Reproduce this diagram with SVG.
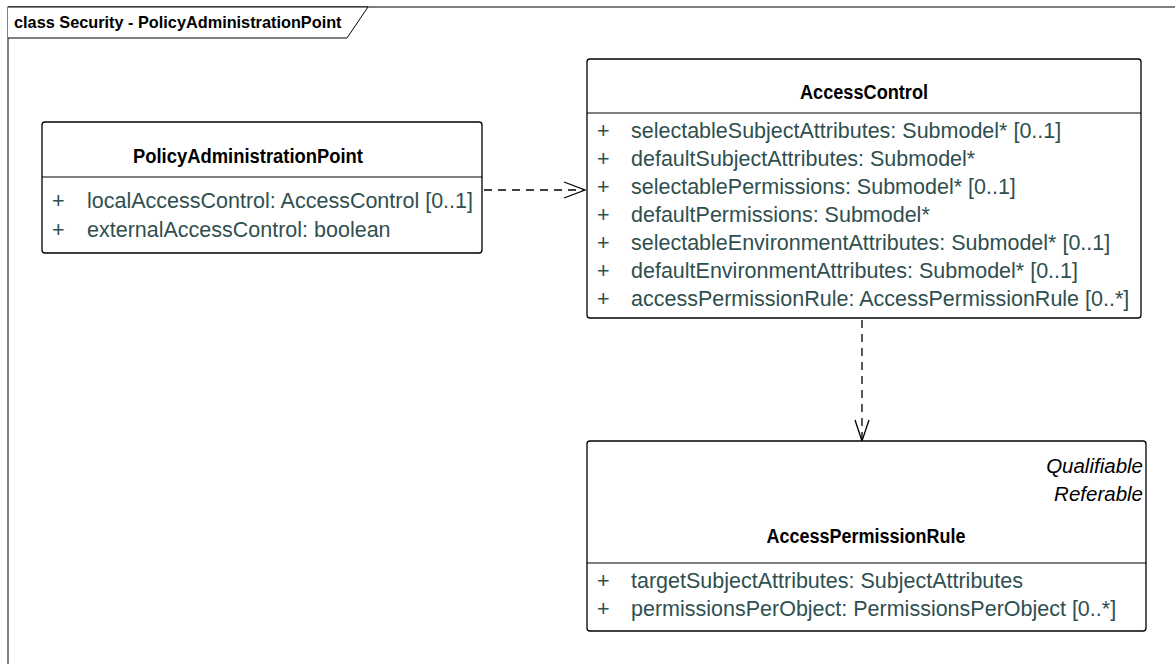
<svg xmlns="http://www.w3.org/2000/svg" width="1175" height="664" viewBox="0 0 1175 664">
<defs>
<style>
.box{fill:#fff;stroke:#000;stroke-width:1.3}
.sep{stroke:#000;stroke-width:1.2}
.title{font-family:"Liberation Sans",Arial,sans-serif;font-weight:bold;font-size:20px;fill:#000;text-anchor:middle}
.attr{font-family:"Liberation Sans",Arial,sans-serif;font-size:21.5px;fill:#2F4F4F}
.stereo{font-family:"Liberation Sans",Arial,sans-serif;font-style:italic;font-size:20.5px;fill:#000;text-anchor:end}
.conn{fill:none;stroke:#000;stroke-width:1.3;stroke-dasharray:8,6}
.head{fill:none;stroke:#000;stroke-width:1.3}
.frameLabel{font-family:"Liberation Sans",Arial,sans-serif;font-weight:bold;font-size:16.3px;fill:#000}
</style>
</defs>
<rect width="1175" height="664" fill="#fff"/>
<g id="frame">
<rect x="8" y="7" width="1200" height="700" fill="none" stroke="#000" stroke-width="1"/>
<path d="M8,7 H368 L347,38 H8" fill="#fff" stroke="#000" stroke-width="1"/>
<text class="frameLabel" x="14" y="28">class Security - PolicyAdministrationPoint</text>
</g>
<g id="connectors">
<path class="conn" d="M484,190 H584"/>
<path class="head" d="M564,182 L585,190 L564,198"/>
<path class="conn" d="M862,320 V440"/>
<path class="head" d="M855,420 L862,441 L869,420"/>
</g>
<g id="PolicyAdministrationPoint">
<rect class="box" x="42" y="122" width="440" height="131" rx="3"/>
<line class="sep" x1="42" y1="177" x2="482" y2="177"/>
<text class="title" x="248" y="163" textLength="230" lengthAdjust="spacingAndGlyphs">PolicyAdministrationPoint</text>
<text class="attr" x="52" y="208">+</text>
<text class="attr" x="87" y="208">localAccessControl: AccessControl [0..1]</text>
<text class="attr" x="52" y="237">+</text>
<text class="attr" x="87" y="237">externalAccessControl: boolean</text>
</g>
<g id="AccessControl">
<rect class="box" x="587" y="59" width="554" height="259" rx="3"/>
<line class="sep" x1="587" y1="113" x2="1141" y2="113"/>
<text class="title" x="864" y="99" textLength="128" lengthAdjust="spacingAndGlyphs">AccessControl</text>
<text class="attr" x="597" y="138">+</text>
<text class="attr" x="631" y="138">selectableSubjectAttributes: Submodel* [0..1]</text>
<text class="attr" x="597" y="166">+</text>
<text class="attr" x="631" y="166">defaultSubjectAttributes: Submodel*</text>
<text class="attr" x="597" y="194">+</text>
<text class="attr" x="631" y="194">selectablePermissions: Submodel* [0..1]</text>
<text class="attr" x="597" y="222">+</text>
<text class="attr" x="631" y="222">defaultPermissions: Submodel*</text>
<text class="attr" x="597" y="250">+</text>
<text class="attr" x="631" y="250">selectableEnvironmentAttributes: Submodel* [0..1]</text>
<text class="attr" x="597" y="278">+</text>
<text class="attr" x="631" y="278">defaultEnvironmentAttributes: Submodel* [0..1]</text>
<text class="attr" x="597" y="306">+</text>
<text class="attr" x="631" y="306">accessPermissionRule: AccessPermissionRule [0..*]</text>
</g>
<g id="AccessPermissionRule">
<rect class="box" x="587" y="441" width="559" height="190" rx="3"/>
<line class="sep" x1="587" y1="563" x2="1146" y2="563"/>
<text class="stereo" x="1143" y="473">Qualifiable</text>
<text class="stereo" x="1143" y="501">Referable</text>
<text class="title" x="866" y="543" textLength="199" lengthAdjust="spacingAndGlyphs">AccessPermissionRule</text>
<text class="attr" x="597" y="588">+</text>
<text class="attr" x="631" y="588">targetSubjectAttributes: SubjectAttributes</text>
<text class="attr" x="597" y="616">+</text>
<text class="attr" x="631" y="616">permissionsPerObject: PermissionsPerObject [0..*]</text>
</g>
</svg>
